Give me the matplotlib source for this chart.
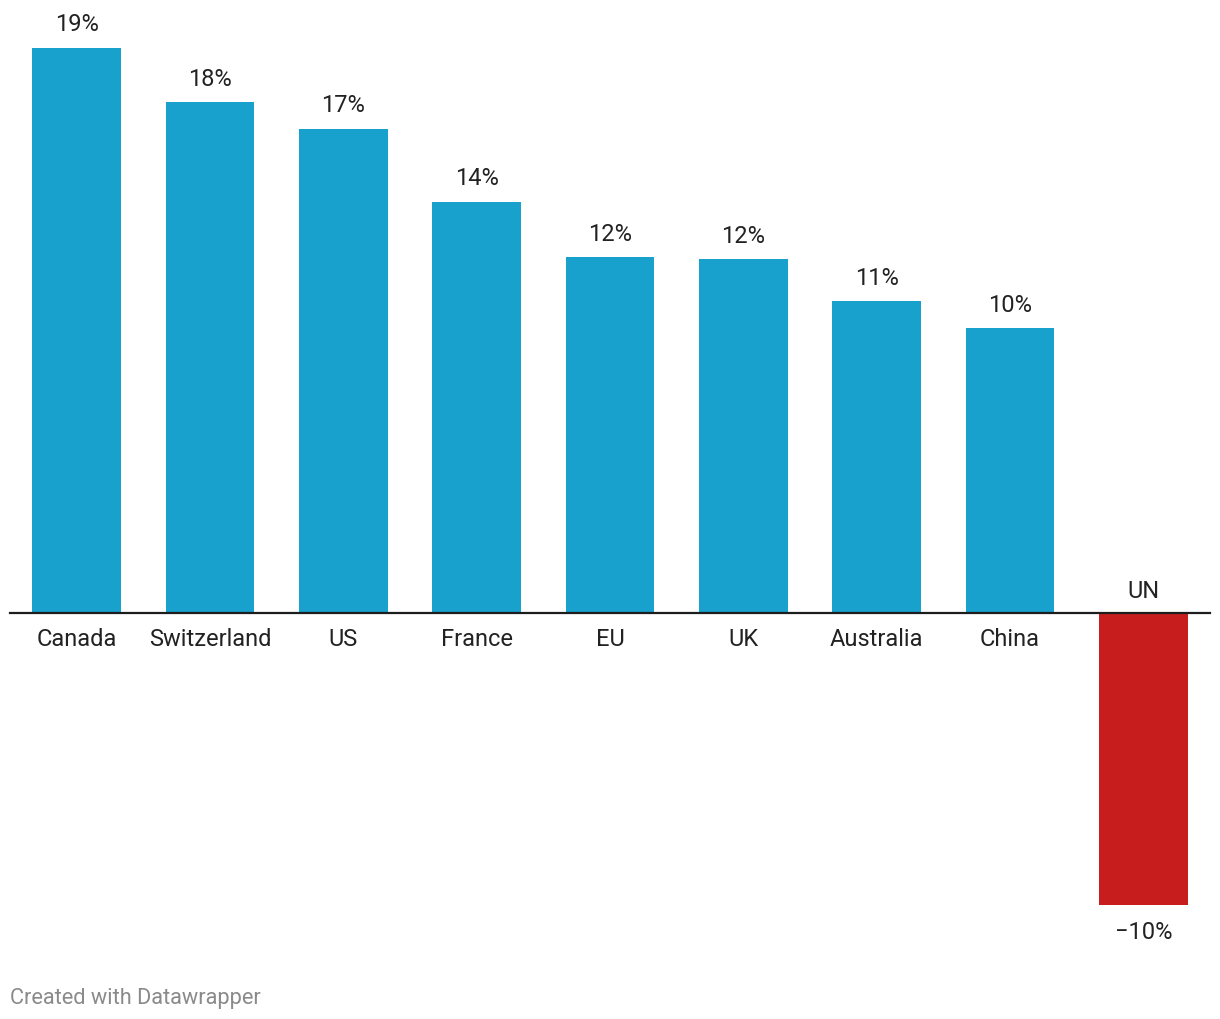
import matplotlib
matplotlib.use("Agg")
import matplotlib.pyplot as plt

plt.rcParams['font.family'] = ['Roboto', 'DejaVu Sans']

# values (labels are rounded)
countries = ["Canada", "Switzerland", "US", "France", "EU", "UK", "Australia", "China", "UN"]
values = [19.35, 17.5, 16.58, 14.08, 12.19, 12.12, 10.68, 9.76, -10.0]

blue = "#18a1cd"
red = "#c71e1d"
colors = [blue if v >= 0 else red for v in values]

fig = plt.figure(figsize=(12.2, 10.2), dpi=100)
W, H = 1220, 1020
# axes area in pixels: x 10..1210, y top 49 .. bottom 906
ax = fig.add_axes([10 / W, (H - 906) / H, 1200 / W, (906 - 49) / H])

x = list(range(len(countries)))
ax.bar(x, values, width=0.667, color=colors, zorder=2)
ax.set_xlim(-0.5, len(countries) - 0.5)
ax.set_ylim(min(values), max(values))
ax.axhline(0, color="#1d1d1d", lw=1.6, zorder=3, clip_on=False)

ax.axis("off")

fs = 17
tc = "#222222"
for xi, v, name in zip(x, values, countries):
    lab = f"{round(v):d}%".replace("-", "\u2212")
    if v >= 0:
        ax.annotate(lab, (xi, v), xytext=(0, 9), textcoords="offset points",
                    ha="center", va="bottom", fontsize=fs, color=tc,
                    annotation_clip=False)
        ax.annotate(name, (xi, 0), xytext=(0, -10), textcoords="offset points",
                    ha="center", va="top", fontsize=fs, color=tc,
                    annotation_clip=False)
    else:
        ax.annotate(lab, (xi, v), xytext=(0, -10.5), textcoords="offset points",
                    ha="center", va="top", fontsize=fs, color=tc,
                    annotation_clip=False)
        ax.annotate(name, (xi, 0), xytext=(0, 8), textcoords="offset points",
                    ha="center", va="bottom", fontsize=fs, color=tc,
                    annotation_clip=False)

fig.text(10 / W, 1 - 999 / H, "Created with Datawrapper", ha="left", va="center",
         fontsize=15.7, color="#8a8a8a")

fig.savefig("out.png", dpi=100, facecolor="white")
